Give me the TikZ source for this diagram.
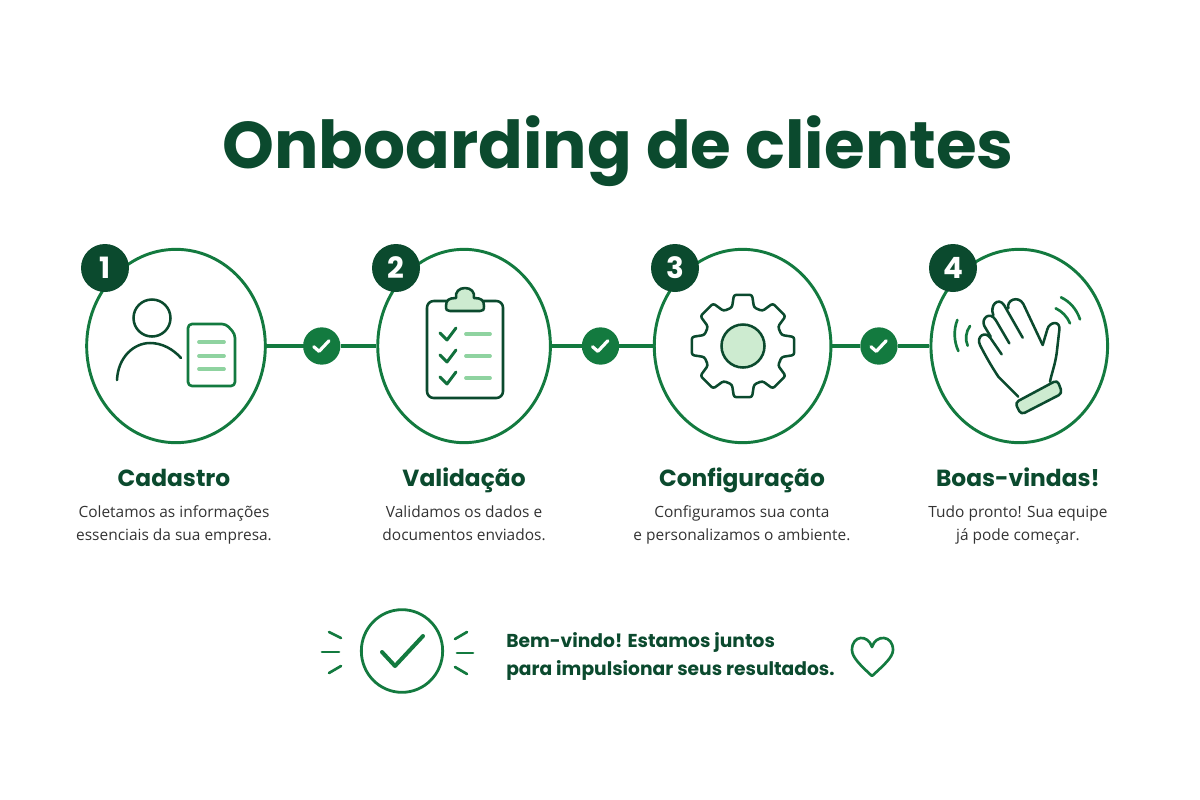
\documentclass[tikz,border=0pt]{standalone}
\usepackage{xcolor}
\usepackage{fontspec}
\setmainfont{Open Sans}
\newfontfamily\headfont{Poppins}
\usetikzlibrary{positioning,shapes.geometric}

\definecolor{darkgreen}{HTML}{0B4A2E}
\definecolor{midgreen}{HTML}{137A3F}
\definecolor{softgreen}{HTML}{8FD3A0}
\definecolor{palegreen}{HTML}{CDEBD0}

\tikzset{
    stepring/.style={draw=midgreen, line width=2.2pt, ellipse, inner sep=0pt, minimum height=145pt},
    badge/.style={circle, fill=darkgreen, text=white, inner sep=0pt, minimum size=36pt,
        font=\headfont\bfseries\fontsize{22}{22}\selectfont},
    checkdot/.style={circle, fill=midgreen, inner sep=0pt, minimum size=28pt},
    link/.style={draw=midgreen, line width=2.8pt},
    steptitle/.style={text=darkgreen, inner sep=0pt, text height=14pt, text depth=4pt,
        font=\headfont\bfseries\fontsize{17.5}{20}\selectfont},
    stepnote/.style={text=black!80, align=center, inner sep=0pt, font=\fontsize{11.6}{17.6}\selectfont},
    iconline/.style={draw=darkgreen, line width=1.9pt, line cap=round, line join=round},
    greenline/.style={draw=midgreen, line width=2pt, line cap=round, line join=round},
    softline/.style={draw=softgreen, line width=2.8pt, line cap=round},
    tick/.style={draw=white, line width=2.4pt, line cap=round, line join=round},
    tinycheck/.style={draw=midgreen!80!darkgreen, line width=2.2pt, line cap=round, line join=round}
}

\begin{document}
\begin{tikzpicture}[x=0.75pt,y=-0.75pt]
    \useasboundingbox[fill=white] (0,0) rectangle (1200,800);

    \node[text=darkgreen, inner sep=0pt, font=\headfont\bfseries\fontsize{49.5}{56}\selectfont]
        (title) at (618,151) {Onboarding de clientes};

    % steps
    \node[stepring, minimum width=134pt] (step1) at (176,346) {};
    \node[checkdot, right=27pt of step1] (check1) {};
    \node[stepring, minimum width=129.5pt, right=26.7pt of check1] (step2) {};
    \node[checkdot, right=22.3pt of step2] (check2) {};
    \node[stepring, minimum width=132.5pt, right=25pt of check2] (step3) {};
    \node[checkdot, right=20.7pt of step3] (check3) {};
    \node[stepring, minimum width=132.5pt, right=23.7pt of check3] (step4) {};

    \draw[link] (step1.east) -- (check1.west);
    \draw[link] (check1.east) -- (step2.west);
    \draw[link] (step2.east) -- (check2.west);
    \draw[link] (check2.east) -- (step3.west);
    \draw[link] (step3.east) -- (check3.west);
    \draw[link] (check3.east) -- (step4.west);

    \foreach \c in {check1,check2,check3}{
        \draw[tick] ([xshift=-6pt,yshift=-0.5pt]\c.center) -- ([xshift=-2pt,yshift=-4pt]\c.center)
            -- ([xshift=5.5pt,yshift=4pt]\c.center);
    }

    \node[badge] (badge1) at (105,268) {1};
    \node[badge] (badge2) at (396,268) {2};
    \node[badge] (badge3) at (675,268) {3};
    \node[badge] (badge4) at (953,268) {4};

    \node[steptitle, below=17.5pt of step1, xshift=-1.5pt] (name1) {Cadastro};
    \node[steptitle, below=17.5pt of step2] (name2) {Validação};
    \node[steptitle, below=17.5pt of step3, xshift=-0.5pt] (name3) {Configuração};
    \node[steptitle, below=17.5pt of step4, xshift=-1pt] (name4) {Boas-vindas!};

    \node[stepnote, below=10pt of name1] (note1) {Coletamos as informações\\essenciais da sua empresa.};
    \node[stepnote, below=10pt of name2] (note2) {Validamos os dados e\\documentos enviados.};
    \node[stepnote, below=10pt of name3] (note3) {Configuramos sua conta\\e personalizamos o ambiente.};
    \node[stepnote, below=10pt of name4] (note4) {Tudo pronto! Sua equipe\\já pode começar.};

    % person and document
    \draw[iconline] (152,318) circle (18.5);
    \draw[iconline] (117,380) .. controls (118,357) and (134,343) .. (150,343)
        .. controls (162,343) and (173,349) .. (181,358);
    \draw[greenline, rounded corners=3pt] (188,324) -- (226,324) -- (235,334) -- (235,386) -- (188,386) -- cycle;
    \draw[softline] (199,342) -- (224,342);
    \draw[softline] (199,356) -- (224,356);
    \draw[softline] (199,369) -- (224,369);

    % clipboard
    \draw[iconline, rounded corners=5pt] (427,301) rectangle (503,398);
    \draw[iconline, fill=palegreen] (446,306) .. controls (446,300) and (449,298) .. (456,298)
        .. controls (455,292) and (459,288) .. (465,288)
        .. controls (471,288) and (475,292) .. (474,298)
        .. controls (481,298) and (484,300) .. (484,306)
        .. controls (484,310) and (483,311) .. (480,311) -- (450,311)
        .. controls (447,311) and (446,310) .. (446,306) -- cycle;
    \foreach \y in {334,356,378}{
        \draw[tinycheck] (440,\y-1) -- (447,\y+6) -- (456,\y-6);
        \draw[softline] (466,\y) -- (490,\y);
    }

    % gear
    \begin{scope}[shift={(743,346)}]
        \draw[iconline, rounded corners=1.8pt] (22.5:40)
            \foreach \a in {45,90,...,360}{
                -- (\a-16:40) -- (\a-10:52) -- (\a+10:52) -- (\a+16:40)
            } -- cycle;
        \draw[iconline, fill=palegreen] (0,0) circle (21.5);
    \end{scope}

    % waving hand
    \begin{scope}[shift={(850,240)},x=0.25pt,y=-0.25pt]
        \draw[iconline] (505,470) -- (445,410) .. controls (425,380) and (405,345) .. (390,315)
            .. controls (378,290) and (405,270) .. (422,295) -- (455,343);
        \draw[iconline] (422,290) -- (403,258)
            .. controls (392,235) and (420,212) .. (437,240) -- (478,310);
        \draw[iconline] (430,226) .. controls (418,195) and (445,170) .. (462,195) -- (518,293);
        \draw[iconline] (475,205) .. controls (468,180) and (505,165) .. (520,192) -- (578,315);
        \draw[iconline] (578,315) -- (592,268) .. controls (598,245) and (632,240) .. (628,270)
            -- (620,340) .. controls (615,375) and (605,400) .. (600,425);
        \draw[iconline, fill=palegreen, rounded corners=3pt]
            (495,488) -- (622,420) -- (637,460) -- (513,524) -- cycle;
        \draw[greenline] (322,240) .. controls (310,270) and (312,305) .. (325,333);
        \draw[greenline] (360,258) .. controls (347,275) and (345,300) .. (353,317);
        \draw[greenline] (633,172) .. controls (660,185) and (680,208) .. (690,238);
        \draw[greenline] (617,205) .. controls (635,213) and (652,230) .. (660,250);
    \end{scope}

    % closing line
    \node[draw=midgreen, line width=2.1pt, ellipse, inner sep=0pt,
        minimum width=61pt, minimum height=62pt] (seal) at (402,651) {};
    \draw[midgreen, line width=3pt, line cap=round, line join=round]
        (382,652) -- (395,666) -- (423,636);
    \draw[greenline] (329,632) -- (341,638);
    \draw[greenline] (322,652) -- (339,652);
    \draw[greenline] (329,673) -- (341,666);
    \draw[greenline] (467,632) -- (455,639);
    \draw[greenline] (457,653) -- (473,653);
    \draw[greenline] (467,674) -- (455,667);

    \node[text=darkgreen, align=left, anchor=west, inner sep=0pt,
        font=\headfont\bfseries\fontsize{14}{21}\selectfont]
        (closing) at (506,656) {Bem-vindo! Estamos juntos\\para impulsionar seus resultados.};

    \draw[greenline] (872,676) .. controls (860,665) and (852,657) .. (852,650)
        .. controls (852,635) and (868,634) .. (872,647)
        .. controls (876,634) and (893,635) .. (893,650)
        .. controls (893,657) and (884,665) .. (872,676) -- cycle;
\end{tikzpicture}
\end{document}
